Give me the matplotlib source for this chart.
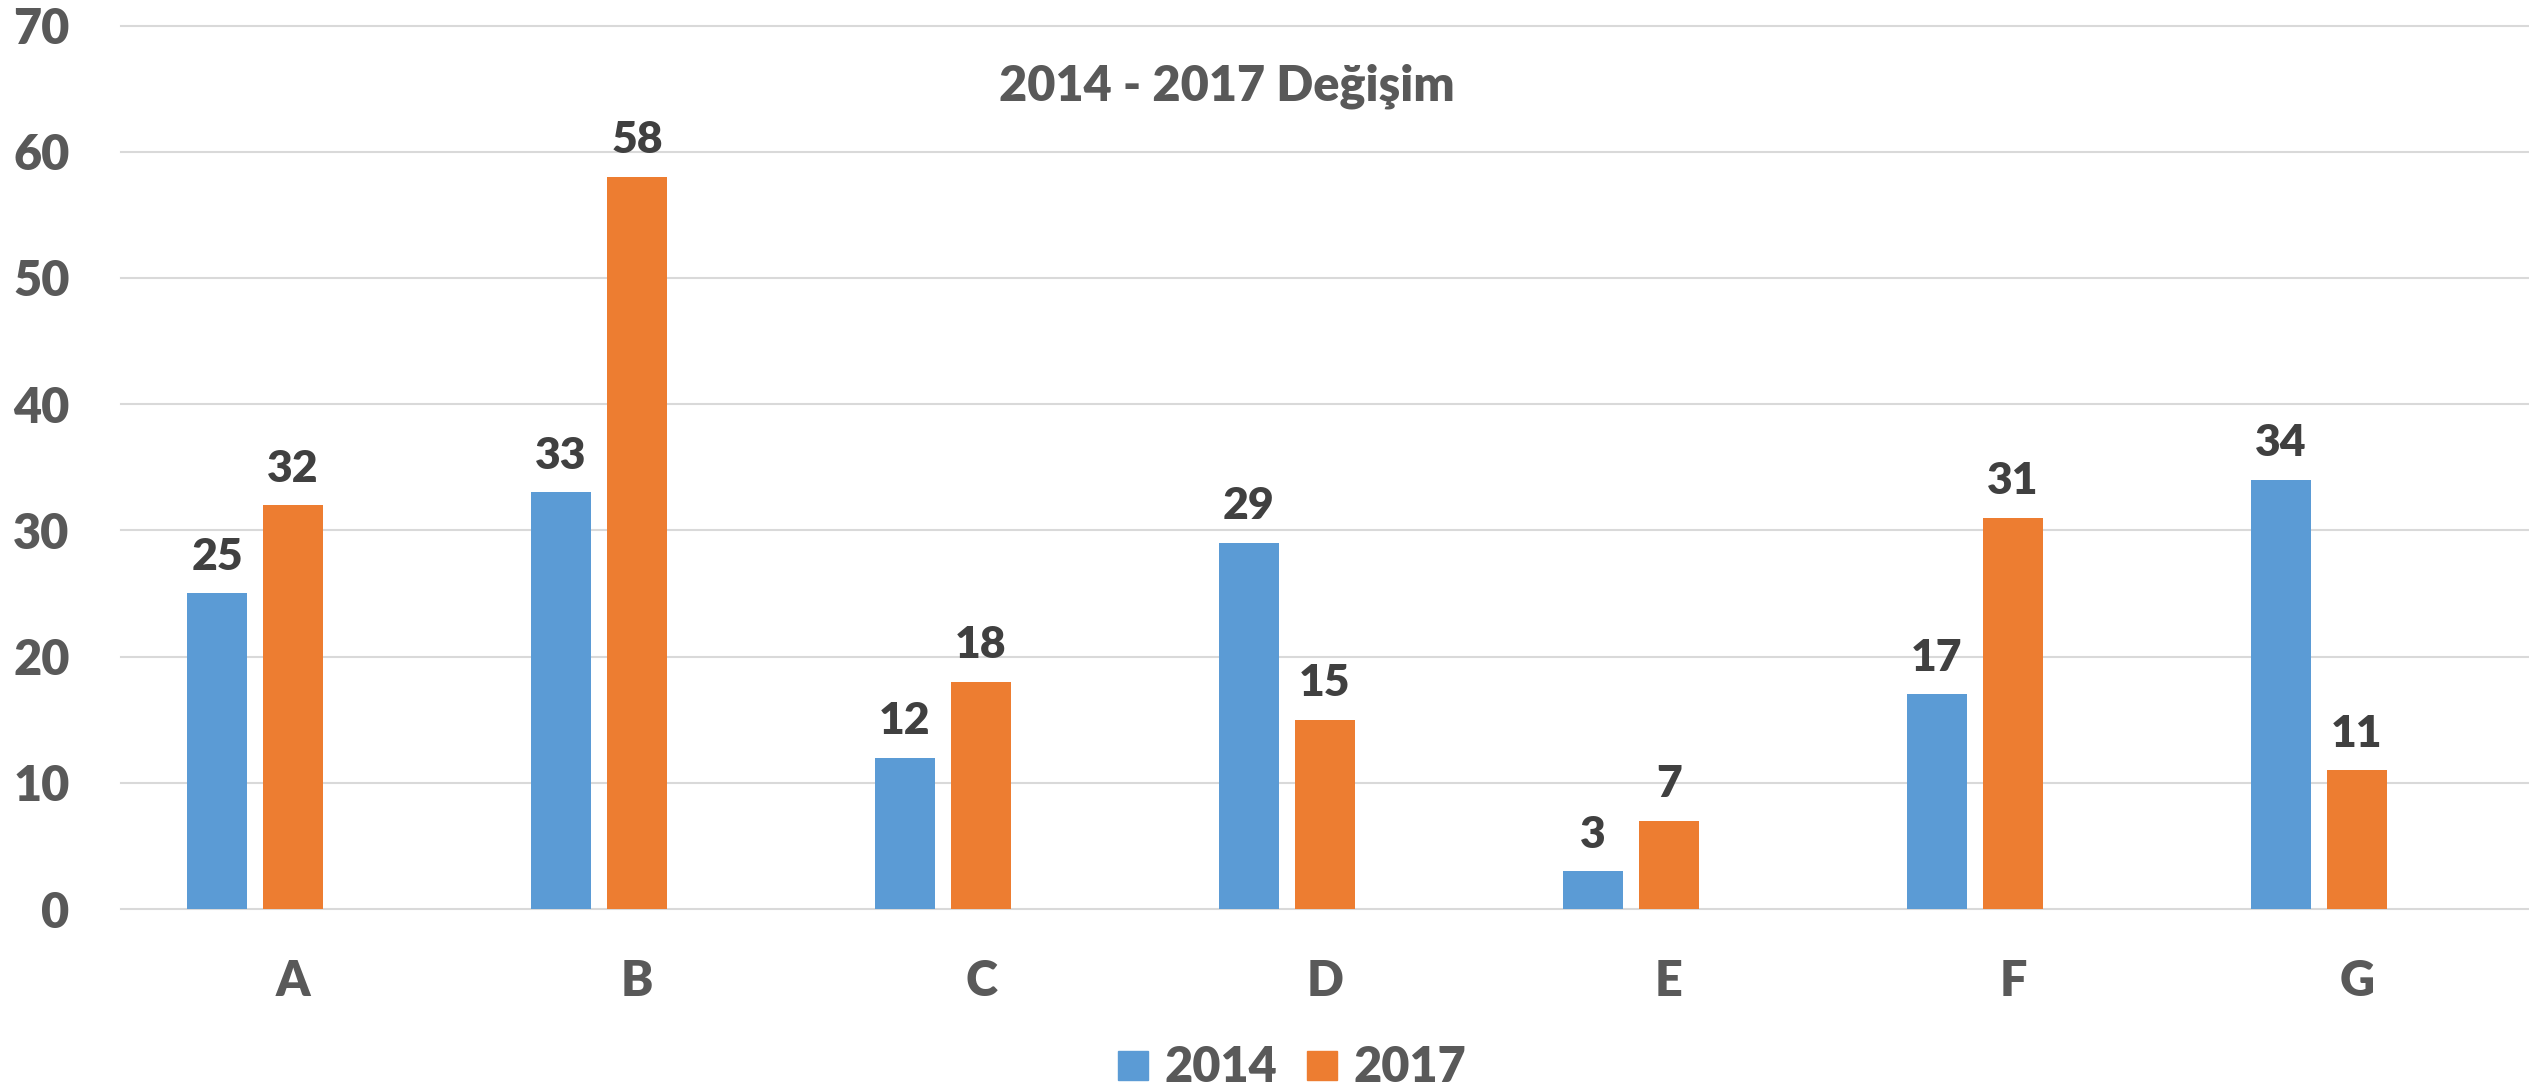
import matplotlib
matplotlib.use("Agg")
import matplotlib.pyplot as plt
from matplotlib.patches import Rectangle
import numpy as np

categories = ["A", "B", "C", "D", "E", "F", "G"]
values_2014 = [25, 33, 12, 29, 3, 17, 34]
values_2017 = [32, 58, 18, 15, 7, 31, 11]
series_names = ["2014", "2017"]
y_ticks = [0, 10, 20, 30, 40, 50, 60, 70]
title = "2014 - 2017 Değişim"

BLUE = "#5B9BD5"
ORANGE = "#ED7D31"
TICK_COLOR = "#595959"
LABEL_COLOR = "#404040"
GRID_COLOR = "#D9D9D9"
WEIGHT = "heavy"

plt.rcParams["font.family"] = ["Lato", "DejaVu Sans"]
plt.rcParams["font.weight"] = WEIGHT

W, H = 2529, 1087
DPI = 100
fig = plt.figure(figsize=(W / DPI, H / DPI), dpi=DPI)
fig.patch.set_facecolor("white")

ax_left = 121 / W
ax_bottom = (H - 909) / H
ax_top = (H - 25.5) / H
ax = fig.add_axes([ax_left, ax_bottom, 1.0 - ax_left, ax_top - ax_bottom])

x = np.arange(len(categories))
cat_w = 344.0
bar_w = 60 / cat_w
step = 76 / cat_w

b1 = ax.bar(x - step, values_2014, width=bar_w, color=BLUE, zorder=3)
b2 = ax.bar(x, values_2017, width=bar_w, color=ORANGE, zorder=3)

for bars, vals in ((b1, values_2014), (b2, values_2017)):
    for rect, v in zip(bars, vals):
        ax.annotate(str(v), xy=(rect.get_x() + rect.get_width() / 2, v),
                    xytext=(0, 17), textcoords="offset points",
                    ha="center", va="baseline", fontsize=32,
                    fontweight=WEIGHT, color=LABEL_COLOR, zorder=4)

ax.set_xlim(-0.5, len(categories) - 0.5)
ax.set_ylim(0, 70)
ax.set_yticks(y_ticks)
ax.set_yticklabels([str(t) for t in y_ticks])
ax.set_xticks(x)
ax.set_xticklabels(categories)
ax.tick_params(axis="y", length=0, pad=37, labelsize=35, labelcolor=TICK_COLOR)
ax.tick_params(axis="x", length=0, pad=36, labelsize=35, labelcolor=TICK_COLOR)
for lbl in ax.get_xticklabels() + ax.get_yticklabels():
    lbl.set_fontweight(WEIGHT)

ax.yaxis.grid(True, color=GRID_COLOR, linewidth=1.5, zorder=0)
ax.xaxis.grid(False)
for sp in ax.spines.values():
    sp.set_visible(False)
for gl in ax.yaxis.get_gridlines():
    gl.set_clip_on(False)

# title
fig.text(1227 / W, (H - 100) / H, title, ha="center", va="baseline",
         fontsize=35, fontweight=WEIGHT, color=TICK_COLOR)

# legend
legend_items = [(1118, BLUE, 1164), (1307, ORANGE, 1353)]
for (sq_x, col, tx), name in zip(legend_items, series_names):
    fig.add_artist(Rectangle((sq_x / W, (H - 1080) / H), 30 / W, 29 / H,
                             transform=fig.transFigure, color=col))
    fig.text(tx / W, (H - 1082) / H, name, ha="left", va="baseline",
             fontsize=35, fontweight=WEIGHT, color=TICK_COLOR)

fig.savefig("out.png", dpi=DPI, facecolor="white")
